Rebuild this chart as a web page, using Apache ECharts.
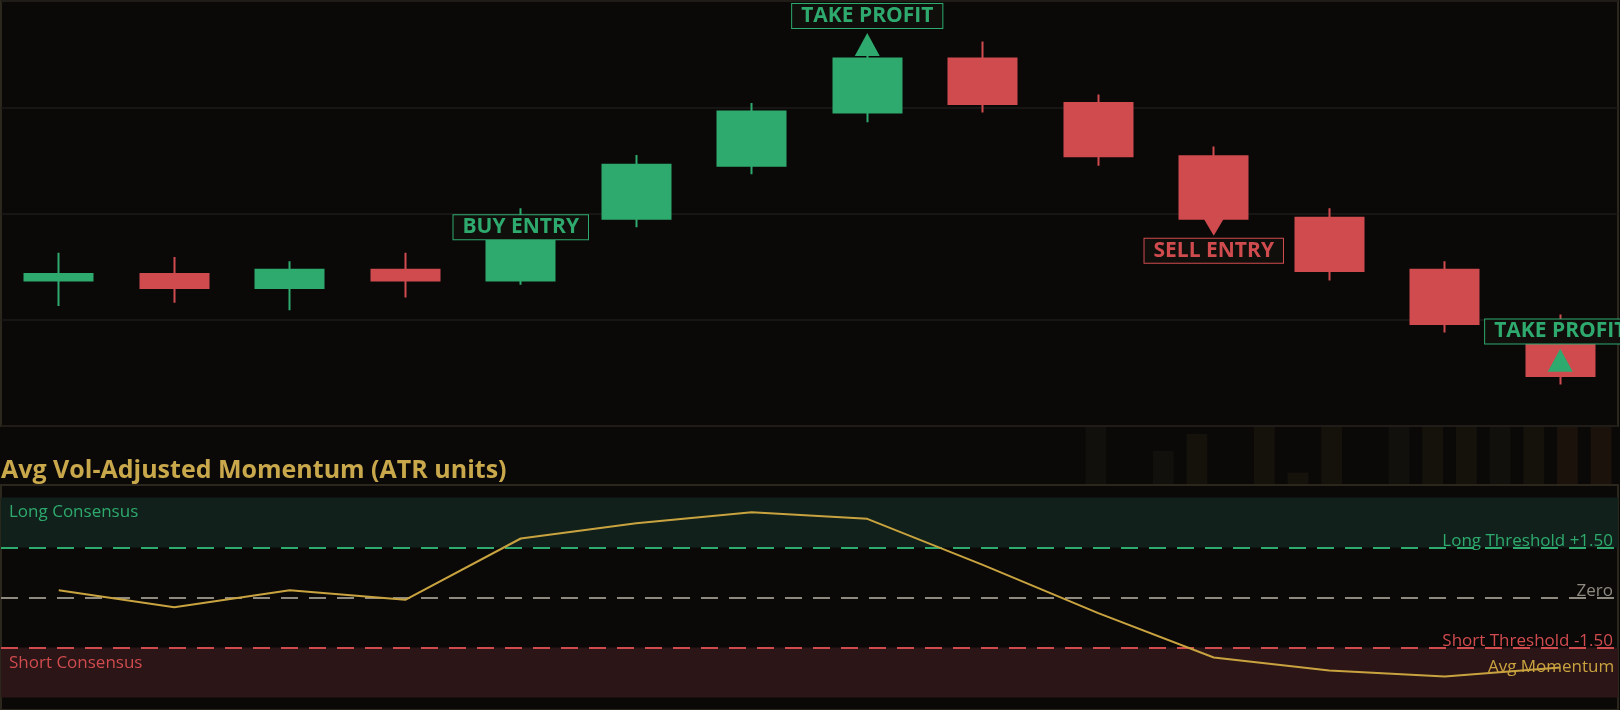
<!DOCTYPE html>
<html>
<head>
<meta charset="utf-8">
<script src="https://cdn.jsdelivr.net/npm/echarts@6/dist/echarts.min.js"></script>
<style>
  html, body { margin: 0; padding: 0; background: #0a0908; }
  #chart { width: 1620px; height: 710px; }
</style>
</head>
<body>
<div id="chart"></div>
<script>
// ---------- data ----------
const bars = ['1','2','3','4','5','6','7','8','9','10','11','12','13','14'];
// candles: open, close, low, high
const candleOpen  = [99.37, 99.43, 99.30, 99.47, 99.37,  99.95, 100.45, 100.95, 101.46, 101.04, 100.54, 99.96, 99.47, 98.97];
const candleClose = [99.43, 99.30, 99.47, 99.37, 99.76, 100.46, 100.96, 101.46, 101.03, 100.54,  99.95, 99.46, 98.96, 98.47];
const candleLow   = [99.13, 99.16, 99.09, 99.21, 99.33,  99.87, 100.37, 100.86, 100.95, 100.45,  99.92, 99.37, 98.88, 98.39];
const candleHigh  = [99.63, 99.59, 99.55, 99.63, 100.05, 100.55, 101.04, 101.50, 101.62, 101.12, 100.63, 100.05, 99.55, 99.05];

const momentum = [0.22, -0.29, 0.22, -0.07, 1.77, 2.23, 2.56, 2.36, 0.98, -0.47, -1.80, -2.19, -2.37, -2.10];

const signalIndex = [4, 7, 10, 13];
const signalText  = ['BUY ENTRY', 'TAKE PROFIT', 'SELL ENTRY', 'TAKE PROFIT'];
const signalSide  = ['long', 'long', 'short', 'long'];
const signalLabelPrice = [99.87, 101.86, 99.65, 98.89];
const signalArrowPrice = [null, 101.59, 99.87, 98.62];
const signalArrowDir   = [null, 'up', 'down', 'up'];

const longThreshold = 1.5;
const shortThreshold = -1.5;
const consensusLimit = 3;
const panelTitle = 'Avg Vol-Adjusted Momentum (ATR units)';

// faint backdrop stripes behind the title strip (slot index, height fraction, tone)
const backdropSlots  = [32, 34, 35, 37, 38, 39, 41, 42, 43, 44, 45, 46, 47];
const backdropHeight = [1, 0.58, 0.88, 1, 0.2, 1, 1, 1, 1, 1, 1, 1, 1];
const backdropTone   = ['g', 'g', 'b', 'b', 'b', 'b', 'g', 'b', 'b', 'g', 'b', 'r', 'r'];
const backdropCount = 48;

// ---------- styling ----------
const GREEN = '#2eaa6e';
const RED = '#d04b4e';
const GOLD = '#c9a33f';
const GRAY = '#8f8a80';
const BORDER = '#2c271c';
const FONT = '"Open Sans", "Noto Sans", sans-serif';
const TONES = { g: '#11100d', b: '#15120b', r: '#1a120b' };

const candleData = bars.map((_, i) => [candleOpen[i], candleClose[i], candleLow[i], candleHigh[i]]);

const labelData = signalIndex.map((idx, k) => ({
  value: [idx, signalLabelPrice[k]],
  label: {
    formatter: signalText[k],
    color: signalSide[k] === 'long' ? GREEN : RED,
    borderColor: signalSide[k] === 'long' ? GREEN : RED
  }
}));

const arrowUp = [], arrowDown = [];
signalIndex.forEach((idx, k) => {
  if (signalArrowDir[k] === 'up') arrowUp.push([idx, signalArrowPrice[k]]);
  if (signalArrowDir[k] === 'down') arrowDown.push([idx, signalArrowPrice[k]]);
});

const backdropCats = Array.from({ length: backdropCount }, (_, i) => i);
const backdropData = backdropCats.map(() => null);
backdropSlots.forEach((s, k) => {
  backdropData[s] = { value: backdropHeight[k], itemStyle: { color: TONES[backdropTone[k]] } };
});

const chart = echarts.init(document.getElementById('chart'), null, { renderer: 'canvas' });

chart.setOption({
  backgroundColor: '#0a0908',
  animation: false,
  title: {
    text: panelTitle,
    left: 1,
    top: 458,
    padding: 0,
    textStyle: { color: '#c9a84c', fontSize: 25, fontWeight: 'bold', fontFamily: FONT }
  },
  grid: [
    { left: 1, right: 2, top: 1, height: 425, show: true, borderColor: BORDER, borderWidth: 2, backgroundColor: 'transparent' },
    { left: 1, right: 2, top: 485, height: 225, show: true, borderColor: BORDER, borderWidth: 2, backgroundColor: 'transparent' },
    { left: 1, right: 2, top: 427, height: 57, show: false }
  ],
  xAxis: [
    { type: 'category', data: bars, gridIndex: 0, boundaryGap: true, show: false },
    { type: 'category', data: bars, gridIndex: 1, boundaryGap: true, show: false },
    { type: 'category', data: backdropCats, gridIndex: 2, boundaryGap: true, show: false }
  ],
  yAxis: [
    { type: 'value', gridIndex: 0, min: 98, max: 102, interval: 1,
      axisLine: { show: false }, axisTick: { show: false }, axisLabel: { show: false },
      splitLine: { show: true, lineStyle: { color: '#1d1b19', width: 1.5 } } },
    { type: 'value', gridIndex: 1, min: -3.375, max: 3.375,
      axisLine: { show: false }, axisTick: { show: false }, axisLabel: { show: false },
      splitLine: { show: false } },
    { type: 'value', gridIndex: 2, min: 0, max: 1, show: false, splitLine: { show: false } }
  ],
  series: [
    {
      type: 'bar',
      xAxisIndex: 2, yAxisIndex: 2,
      data: backdropData,
      barWidth: '62%',
      silent: true,
      z: 0
    },
    {
      type: 'candlestick',
      xAxisIndex: 0, yAxisIndex: 0,
      data: candleData,
      barWidth: '59%',
      itemStyle: { color: GREEN, color0: RED, borderColor: GREEN, borderColor0: RED, borderWidth: 2 }
    },
    {
      type: 'scatter',
      xAxisIndex: 0, yAxisIndex: 0,
      data: arrowUp,
      symbol: 'triangle',
      symbolSize: [25, 23],
      itemStyle: { color: GREEN, opacity: 1 },
      z: 3
    },
    {
      type: 'scatter',
      xAxisIndex: 0, yAxisIndex: 0,
      data: arrowDown,
      symbol: 'triangle',
      symbolRotate: 180,
      symbolSize: [20, 17],
      itemStyle: { color: RED, opacity: 1 },
      z: 3
    },
    {
      type: 'scatter',
      xAxisIndex: 0, yAxisIndex: 0,
      data: labelData,
      symbolSize: 1,
      itemStyle: { color: 'rgba(0,0,0,0)', opacity: 1 },
      z: 4,
      label: {
        show: true,
        position: 'inside',
        fontSize: 21,
        fontWeight: 'bold',
        fontFamily: FONT,
        opacity: 1,
        backgroundColor: '#110f0c',
        borderWidth: 1,
        padding: [0, 9, 0, 9],
        lineHeight: 24
      }
    },
    {
      type: 'line',
      name: 'Avg Momentum',
      xAxisIndex: 1, yAxisIndex: 1,
      data: momentum,
      symbol: 'none',
      lineStyle: { color: GOLD, width: 2 },
      z: 5,
      endLabel: {
        show: true,
        formatter: 'Avg Momentum',
        color: GOLD,
        fontSize: 17,
        fontFamily: FONT,
        align: 'right',
        distance: 0,
        offset: [54, 0]
      },
      markArea: {
        silent: true,
        data: [
          [ { yAxis: longThreshold, itemStyle: { color: '#11201a' },
              label: { show: true, formatter: 'Long Consensus', position: [8, 6], color: GREEN, fontSize: 17, fontFamily: FONT } },
            { yAxis: consensusLimit } ],
          [ { yAxis: -consensusLimit, itemStyle: { color: '#2b1517' },
              label: { show: true, formatter: 'Short Consensus', position: [8, 7], color: RED, fontSize: 17, fontFamily: FONT } },
            { yAxis: shortThreshold } ]
        ]
      },
      markLine: {
        silent: true,
        symbol: 'none',
        data: [
          { yAxis: longThreshold, lineStyle: { color: GREEN, type: [17, 11], width: 2 },
            label: { formatter: 'Long Threshold +1.50', color: GREEN } },
          { yAxis: 0, lineStyle: { color: GRAY, type: [17, 11], width: 2 },
            label: { formatter: 'Zero', color: GRAY } },
          { yAxis: shortThreshold, lineStyle: { color: RED, type: [17, 11], width: 2 },
            label: { formatter: 'Short Threshold -1.50', color: RED } }
        ],
        label: { show: true, position: 'insideEndTop', distance: [5, -2], fontSize: 17, fontFamily: FONT }
      }
    }
  ]
});
</script>
</body>
</html>
